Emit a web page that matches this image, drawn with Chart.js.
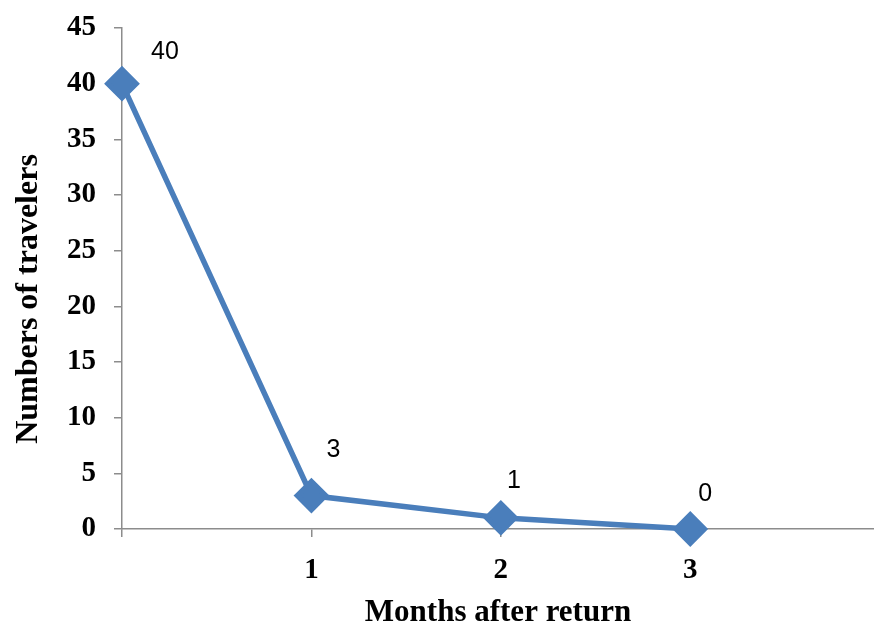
<!DOCTYPE html>
<html>
<head>
<meta charset="utf-8">
<script src="https://cdn.jsdelivr.net/npm/chart.js@4.4.1/dist/chart.umd.min.js"></script>
<style>
  html, body { margin: 0; padding: 0; background: #fff; }
  #wrap { width: 874px; height: 624px; }
</style>
</head>
<body>
<div id="wrap"><canvas id="chart" width="874" height="624"></canvas></div>
<script>
const months = [0, 1, 2, 3];
const travelers = [40, 3, 1, 0];
const xTickLabels = ["", "1", "2", "3", ""];
const yTitle = "Numbers of travelers";
const xTitle = "Months after return";

// label offsets from each marker (style only)
const labelOffsets = [[43, -32], [22, -45], [13, -37], [15, -35]];

const lineColor = "#4a7ebb";
const axisColor = "#8c8c8c";
const serif = "'Liberation Serif', 'Times New Roman', serif";

const pointLabels = {
  id: "pointLabels",
  afterDatasetsDraw(chart) {
    const ctx = chart.ctx;
    const meta = chart.getDatasetMeta(0);
    ctx.save();
    ctx.font = "25px 'Liberation Sans', Arial, sans-serif";
    ctx.fillStyle = "#000";
    ctx.textAlign = "center";
    ctx.textBaseline = "middle";
    meta.data.forEach((pt, i) => {
      const off = labelOffsets[i];
      ctx.fillText(String(travelers[i]), pt.x + off[0], pt.y + off[1]);
    });
    ctx.restore();
  }
};

// y title sits a bit below the plot's middle, as in the original
const yAxisTitle = {
  id: "yAxisTitle",
  afterDraw(chart) {
    const ctx = chart.ctx;
    ctx.save();
    ctx.translate(29, chart.height / 2 - 13);
    ctx.rotate(-Math.PI / 2);
    ctx.font = "bold 32px " + serif;
    ctx.fillStyle = "#000";
    ctx.textAlign = "center";
    ctx.textBaseline = "middle";
    ctx.fillText(yTitle, 0, 0);
    ctx.restore();
  }
};

const ctx = document.getElementById("chart").getContext("2d");
new Chart(ctx, {
  type: "line",
  data: {
    datasets: [{
      data: months.map((m, i) => ({ x: m, y: travelers[i] })),
      borderColor: lineColor,
      backgroundColor: lineColor,
      borderWidth: 5.5,
      pointStyle: "rectRot",
      pointRadius: 14,
      pointHoverRadius: 14,
      tension: 0
    }]
  },
  options: {
    responsive: false,
    animation: false,
    clip: false,
    layout: { autoPadding: false, padding: { top: 28, right: 0, bottom: 0, left: 0 } },
    plugins: {
      legend: { display: false },
      tooltip: { enabled: false }
    },
    scales: {
      x: {
        type: "linear",
        min: 0,
        max: 3.97,
        afterFit: (s) => { s.height = 95; s.paddingLeft = 0; s.paddingRight = 0; },
        ticks: {
          stepSize: 1,
          includeBounds: false,
          padding: 16,
          color: "#000",
          font: { family: serif, size: 29, weight: "bold" },
          callback: (v) => xTickLabels[v] ?? ""
        },
        grid: { drawOnChartArea: false, tickLength: 8, color: axisColor, lineWidth: 1.5 },
        border: { color: axisColor, width: 1.5 },
        title: {
          display: true,
          text: xTitle,
          color: "#000",
          font: { family: serif, size: 31, weight: "bold" },
          padding: { top: 0, bottom: -8 }
        }
      },
      y: {
        min: 0,
        max: 45,
        afterFit: (s) => { s.width = 122; s.paddingTop = 0; s.paddingBottom = 0; },
        ticks: {
          stepSize: 5,
          padding: 18,
          color: "#000",
          font: { family: serif, size: 29, weight: "bold" }
        },
        grid: { drawOnChartArea: false, tickLength: 8, color: axisColor, lineWidth: 1.5 },
        border: { color: axisColor, width: 1.5 }
      }
    }
  },
  plugins: [pointLabels, yAxisTitle]
});
</script>
</body>
</html>
